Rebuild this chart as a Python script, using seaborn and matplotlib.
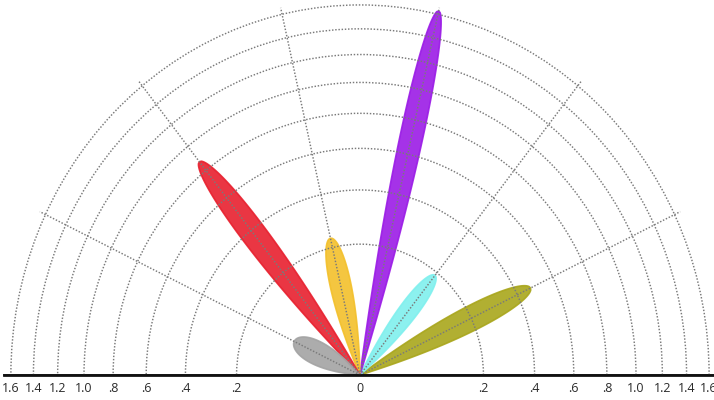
import numpy as np
import matplotlib
matplotlib.use("Agg")
import matplotlib.pyplot as plt
import seaborn as sns

sns.set_theme(style="white")
plt.rcParams["font.family"] = ["Open Sans", "DejaVu Sans"]

# -------- DATA --------
beam_angles = [25.7, 51.4, 77.1, 102.9, 128.6, 154.3]      # degrees
beam_lengths = [0.47, 0.19, 1.63, 0.23, 0.87, 0.07]
beam_widths = [0.085, 0.065, 0.082, 0.075, 0.088, 0.08]    # in sqrt(r) units
beam_colors = ["#a9a61c", "#80f0ee", "#9b1ce6", "#f3c02b", "#e8202e", "#a3a3a3"]

ring_values = [0.2, 0.4, 0.6, 0.8, 1.0, 1.2, 1.4, 1.6]
tick_values = [-1.6, -1.4, -1.2, -1.0, -0.8, -0.6, -0.4, -0.2, 0,
               0.2, 0.4, 0.6, 0.8, 1.0, 1.2, 1.4, 1.6]
tick_labels = ["1.6", "1.4", "1.2", "1.0", ".8", ".6", ".4", ".2", "0",
               ".2", ".4", ".6", ".8", "1.0", "1.2", "1.4", "1.6"]

# -------- LAYOUT (pixels) --------
W, H = 714, 400
x0, y0 = 360, 25          # origin, from bottom-left
c = 276                   # pixels per sqrt unit
rmax = 1.66
Rh = c * np.sqrt(rmax)
Rv = 1.06 * Rh

fig = plt.figure(figsize=(W / 100, H / 100), dpi=100)

# -------- POLAR PART --------
ax = fig.add_axes([(x0 - Rh) / W, (y0 - Rv / 2) / H, 2 * Rh / W, 2 * Rv / H],
                  projection="polar")
ax.set_rscale("function", functions=(np.sqrt, np.square))
ax.set_thetamin(0)
ax.set_thetamax(180)
ax.set_rlim(0, rmax)
ax.set_aspect("auto")
ax.set_facecolor("none")
ax.set_yticks(ring_values)
ax.set_yticklabels([])
ax.set_xticks(np.deg2rad(beam_angles))
ax.set_xticklabels([])
ax.set_axisbelow(False)
ax.grid(True, color="#7a7a7a", linestyle=(0, (1, 1.2)), linewidth=1.05)
for sp in ax.spines.values():
    sp.set_visible(False)

s = np.linspace(0, 1, 300)
for ang, length, width, col in zip(beam_angles, beam_lengths, beam_widths, beam_colors):
    d = s * np.sqrt(length)
    h = 0.5 * width * s * np.sqrt(1 - s) / 0.385
    rho = np.hypot(d, h)
    delta = np.arctan2(h, d)
    t0 = np.deg2rad(ang)
    theta = np.concatenate([t0 + delta, (t0 - delta)[::-1]])
    r = np.concatenate([rho ** 2, (rho ** 2)[::-1]])
    ax.fill(theta, r, color=col, alpha=0.9, linewidth=1.2, edgecolor=col,
            clip_on=False, zorder=1)

# -------- BOTTOM AXIS --------
bx = fig.add_axes([(x0 - Rh) / W, y0 / H, 2 * Rh / W, 0.05])
bx.set_xscale("function", functions=(lambda v: np.sign(v) * np.sqrt(np.abs(v)),
                                     lambda v: np.sign(v) * v ** 2))
bx.set_xlim(-rmax, rmax)
bx.set_facecolor("none")
bx.set_yticks([])
bx.set_xticks(tick_values)
bx.set_xticklabels(tick_labels)
bx.tick_params(axis="x", length=0, pad=5, labelsize=9, labelcolor="#2a2a2a")
for side in ["top", "left", "right"]:
    bx.spines[side].set_visible(False)
bx.spines["bottom"].set_color("#111111")
bx.spines["bottom"].set_linewidth(2)

fig.savefig("out.png", dpi=100)
